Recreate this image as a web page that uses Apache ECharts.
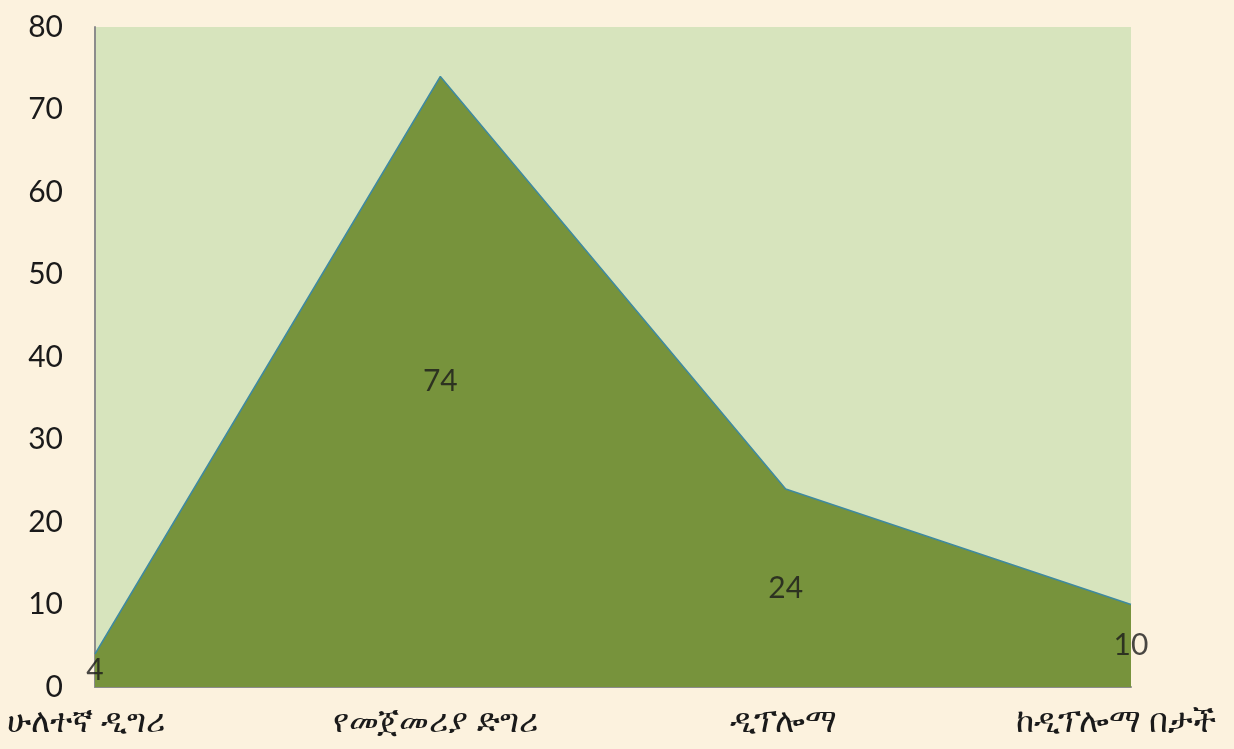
<!DOCTYPE html>
<html>
<head>
<meta charset="utf-8">
<script src="https://cdn.jsdelivr.net/npm/echarts@6/dist/echarts.min.js"></script>
<style>
html,body{margin:0;padding:0;background:#FCF2DE;}
#chart{width:1234px;height:749px;}
</style>
</head>
<body>
<div id="chart"></div>
<script>
const categories = ['ሁለተኛ ዲግሪ', 'የመጀመሪያ ድግሪ', 'ዲፕሎማ', 'ከዲፕሎማ በታች'];
const values = [4, 74, 24, 10];
const yTicks = { min: 0, max: 80, interval: 10 };

const chart = echarts.init(document.getElementById('chart'));
const labelPoints = values.map((v, i) => ({ value: [i, v / 2], label: v }));
const catShift = [18, 10, 4, 30];
const catData = categories.map((c, i) => ({ value: c, textStyle: { padding: [0, catShift[i], 0, 0] } }));

chart.setOption({
  backgroundColor: '#FCF2DE',
  animation: false,
  grid: { left: 95, right: 103, top: 27, bottom: 62, show: true, backgroundColor: '#D7E4BD', borderWidth: 0 },
  xAxis: {
    type: 'category',
    data: catData,
    boundaryGap: false,
    axisLine: { show: true, lineStyle: { color: '#8C8C8C', width: 2 } },
    axisTick: { show: false },
    splitLine: { show: false },
    axisLabel: { color: '#1a1a1a', fontSize: 33, fontFamily: 'Noto Sans, DejaVu Sans, sans-serif', margin: 19, interval: 0 }
  },
  yAxis: {
    type: 'value',
    min: yTicks.min, max: yTicks.max, interval: yTicks.interval,
    axisLine: { show: true, lineStyle: { color: '#8C8C8C', width: 2 } },
    axisTick: { show: false },
    splitLine: { show: false },
    axisLabel: { color: '#1a1a1a', fontSize: 30, fontFamily: 'Lato, Carlito, sans-serif', margin: 32, align: 'right' }
  },
  series: [
    {
      type: 'line',
      data: values,
      symbol: 'none',
      lineStyle: { color: '#3F8AA0', width: 1.5 },
      areaStyle: { color: '#77933C', opacity: 1 },
      z: 2
    },
    {
      type: 'scatter',
      data: labelPoints,
      symbolSize: 0,
      label: {
        show: true,
        position: 'inside',
        formatter: p => String(p.data.label),
        color: '#1a1a1a',
        fontSize: 30,
        fontFamily: 'Lato, Carlito, sans-serif'
      },
      z: 5
    }
  ]
});
</script>
</body>
</html>
